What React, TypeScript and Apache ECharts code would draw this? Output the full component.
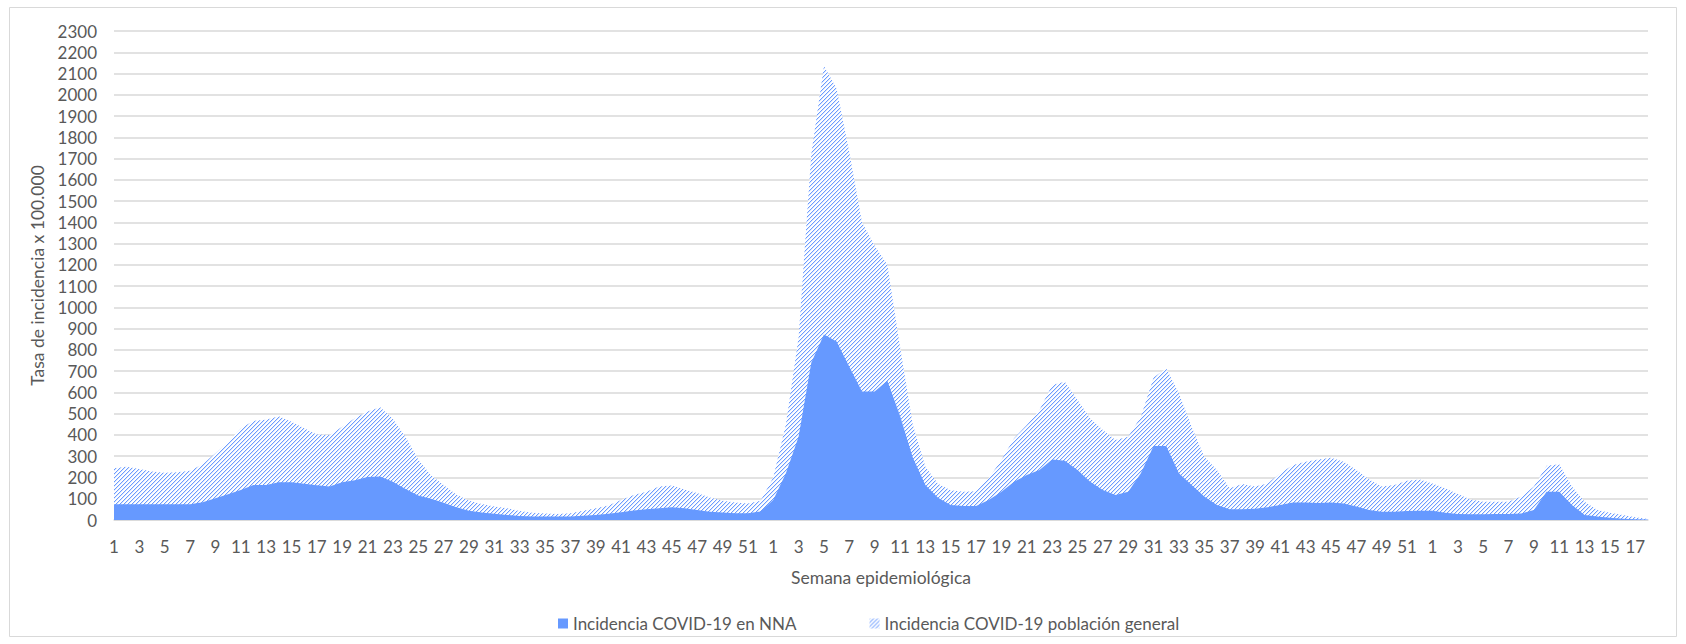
import React, { useEffect, useRef } from 'react';
import * as echarts from 'echarts';

// Epidemiological weeks (three consecutive years)
const weeksYear1 = [1,2,3,4,5,6,7,8,9,10,11,12,13,14,15,16,17,18,19,20,21,22,23,24,25,26,27,28,29,30,31,32,33,34,35,36,37,38,39,40,41,42,43,44,45,46,47,48,49,50,51,52];
const weeksYear2 = [1,2,3,4,5,6,7,8,9,10,11,12,13,14,15,16,17,18,19,20,21,22,23,24,25,26,27,28,29,30,31,32,33,34,35,36,37,38,39,40,41,42,43,44,45,46,47,48,49,50,51,52];
const weeksYear3 = [1,2,3,4,5,6,7,8,9,10,11,12,13,14,15,16,17,18];

// Incidencia COVID-19 en NNA
const nnaYear1 = [74,74,74,74,74,74,74,83,102,121,141,165,165,177,177,171,163,158,177,187,202,205,180,146,115,100,81,60,44,35,29,24,19,17,16,16,17,20,24,29,37,45,50,55,60,55,47,39,35,32,32,40];
const nnaYear2 = [94,220,392,740,872,840,721,604,604,655,490,295,165,105,70,66,66,94,133,180,212,235,285,279,235,180,141,118,133,220,348,348,220,165,110,71,50,50,53,60,71,82,82,80,82,78,63,47,39,39,42,44];
const nnaYear3 = [44,34,28,27,27,28,28,31,47,133,133,71,24,16,11,6,3,2];

// Incidencia COVID-19 población general
const genYear1 = [243,250,240,228,222,225,232,262,314,368,431,466,472,488,462,432,402,400,439,478,510,530,475,390,285,210,165,120,90,75,64,55,42,34,30,28,32,44,55,68,94,118,133,157,162,144,127,106,90,82,78,90];
const genYear2 = [200,450,860,1720,2135,2030,1730,1400,1290,1200,815,450,250,170,140,133,135,196,282,384,447,517,635,650,564,478,423,376,392,486,670,712,596,439,298,235,149,169,157,172,220,259,274,285,293,274,235,191,157,165,185,191];
const genYear3 = [172,149,122,97,86,86,86,110,157,255,262,157,86,47,34,24,13,5];

const NAME_NNA = 'Incidencia COVID-19 en NNA';
const NAME_GEN = 'Incidencia COVID-19 población general';

function makeHatch(): any {
  const size = 4;
  const c = document.createElement('canvas');
  c.width = size;
  c.height = size;
  const ctx = c.getContext('2d')!;
  ctx.fillStyle = '#ffffff';
  ctx.fillRect(0, 0, size, size);
  for (let x = 0; x < size; x++) {
    const y = size - 1 - x;
    ctx.fillStyle = '#dbe7ff';
    ctx.fillRect((x + 1) % size, y, 1, 1);
    ctx.fillStyle = '#6b9bff';
    ctx.fillRect(x, y, 1, 1);
  }
  return { image: c, repeat: 'repeat', imageWidth: size, imageHeight: size };
}

export default function App() {
  const ref = useRef<HTMLDivElement>(null);
  useEffect(() => {
    document.body.style.margin = '0';
    if (!ref.current) return;
    const chart = echarts.init(ref.current, null, { renderer: 'svg' });
    const hatch = makeHatch();
    const categories = [...weeksYear1, ...weeksYear2, ...weeksYear3].map(String);
    const nna = [...nnaYear1, ...nnaYear2, ...nnaYear3];
    const gen = [...genYear1, ...genYear2, ...genYear3];
    const font = 'Lato';
    const gray = '#595959';
    chart.setOption({
      animation: false,
      backgroundColor: '#ffffff',
      textStyle: { fontFamily: font },
      grid: { left: 114, right: 38, top: 31, bottom: 124, containLabel: false },
      legend: {
        left: 553,
        top: 610,
        itemWidth: 10,
        itemHeight: 10,
        itemGap: 73,
        textStyle: { color: gray, fontSize: 17, fontFamily: font },
        data: [
          { name: NAME_NNA, icon: 'rect', itemStyle: { color: '#6699ff' } },
          { name: NAME_GEN, icon: 'rect', itemStyle: { color: hatch } },
        ],
      },
      xAxis: {
        type: 'category',
        data: categories,
        boundaryGap: false,
        axisLine: { lineStyle: { color: '#d9d9d9', width: 1.5 } },
        axisTick: { show: false },
        axisLabel: { interval: 1, color: gray, fontSize: 17, margin: 18, fontFamily: font },
        name: 'Semana epidemiológica',
        nameLocation: 'middle',
        nameGap: 48,
        nameTextStyle: { color: gray, fontSize: 17.5, fontFamily: font },
      },
      yAxis: {
        type: 'value',
        min: 0,
        max: 2300,
        interval: 100,
        axisLine: { show: false },
        axisTick: { show: false },
        axisLabel: { color: gray, fontSize: 17, margin: 17, fontFamily: font, formatter: (v: number) => String(v) },
        splitLine: { lineStyle: { color: '#d9d9d9', width: 1.5 } },
        name: 'Tasa de incidencia x 100.000',
        nameLocation: 'middle',
        nameRotate: 90,
        nameGap: 66,
        nameTextStyle: { color: gray, fontSize: 17.5, fontFamily: font },
      },
      series: [
        {
          name: NAME_GEN,
          type: 'line',
          data: gen,
          symbol: 'none',
          smooth: false,
          lineStyle: { width: 0, opacity: 0 },
          itemStyle: { color: '#6f9dff' },
          areaStyle: { color: hatch, opacity: 1 },
          z: 2,
        },
        {
          name: NAME_NNA,
          type: 'line',
          data: nna,
          symbol: 'none',
          smooth: false,
          lineStyle: { width: 0, opacity: 0 },
          itemStyle: { color: '#6699ff' },
          areaStyle: { color: '#6699ff', opacity: 1 },
          z: 3,
        },
      ],
      graphic: [
        {
          type: 'rect',
          silent: true,
          shape: { x: 9.5, y: 7.5, width: 1667, height: 629 },
          style: { fill: 'none', stroke: '#d9d9d9', lineWidth: 1 },
        },
      ],
    });
    return () => chart.dispose();
  }, []);
  return <div ref={ref} style={{ width: 1686, height: 644 }} />;
}
